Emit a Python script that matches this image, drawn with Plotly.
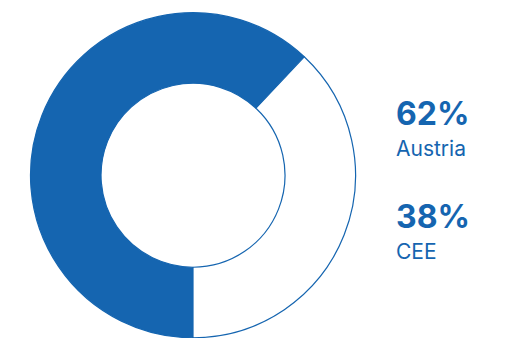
import plotly.graph_objects as go

# Share of business by region
regions = ["Austria", "CEE"]
shares = [62, 38]
share_labels = ["62%", "38%"]

BLUE = "#1565B0"
W, H = 506, 338

fig = go.Figure(
    go.Pie(
        labels=regions,
        values=shares,
        hole=0.566,
        sort=False,
        direction="clockwise",
        rotation=180,
        marker=dict(colors=[BLUE, "white"], line=dict(color=BLUE, width=1.2)),
        textinfo="none",
        hoverinfo="label+percent",
        showlegend=False,
        domain=dict(x=[30.5 / W, 355.5 / W], y=[0.0 / H, 325.5 / H]),
    )
)

# Legend-style labels on the right
label_x = 394 / W
rows = [(share_labels[0], regions[0], 114, 148), (share_labels[1], regions[1], 217, 251)]
for big, small, y_big, y_small in rows:
    fig.add_annotation(
        x=label_x, y=1 - y_big / H, xref="paper", yref="paper",
        xanchor="left", yanchor="middle", showarrow=False,
        text=f"<b>{big}</b>",
        font=dict(family="Inter", size=32, color=BLUE),
    )
    fig.add_annotation(
        x=label_x, y=1 - y_small / H, xref="paper", yref="paper",
        xanchor="left", yanchor="middle", showarrow=False,
        text=small,
        font=dict(family="Inter", size=21, color=BLUE),
    )

fig.update_layout(
    width=W, height=H,
    margin=dict(l=0, r=0, t=0, b=0),
    paper_bgcolor="white", plot_bgcolor="white",
)

fig.write_html("out.html")
